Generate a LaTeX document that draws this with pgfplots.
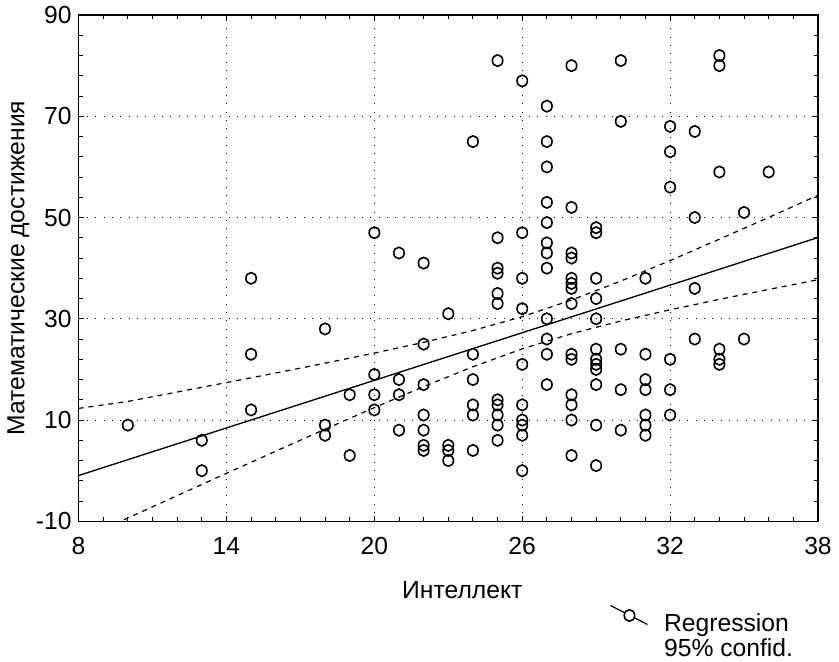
\documentclass[border=0pt]{standalone}
\usepackage{fontspec}
\setmainfont{Liberation Sans}
\usepackage{pgfplots}
\pgfplotsset{compat=1.18}
\begin{document}
\fontsize{18.5}{22}\selectfont
\begin{tikzpicture}
\begin{axis}[
  scale only axis, width=554.25pt, height=379.5pt,
  xmin=8, xmax=38, ymin=-10, ymax=90,
  xtick={8,14,20,26,32,38}, xticklabels={8,14,20,26,32,38},
  ytick={-10,10,30,50,70,90}, yticklabels={-10,10,30,50,70,90},
  minor x tick num=5, minor y tick num=4,
  tick align=inside, tick pos=both,
  major tick length=4pt, minor tick length=3pt,
  tick style={black, line width=0.7pt},
  axis line style={line width=1.2pt},
  grid=major,
  major grid style={black, line width=0.75pt, dash pattern=on 0.75pt off 5.5pt},
  ticklabel style={font=\fontsize{18.5}{22}\selectfont},
  xticklabel style={anchor=north, inner sep=0pt, yshift=-12pt},
  yticklabel style={anchor=east, inner sep=0pt, xshift=-5pt},
  xlabel={Интеллект}, ylabel={Математические достижения},
  label style={font=\fontsize{18.5}{22}\selectfont},
  xlabel style={at={(axis description cs:0.519,-0.1522)}, anchor=base, inner sep=0pt},
  ylabel style={at={(axis description cs:-0.0967,0.5)}, anchor=north, inner sep=0pt},
  legend style={at={(axis description cs:0.7185,-0.1650)}, anchor=north west,
    draw=none, fill=none, inner sep=0pt, outer sep=0pt,
    row sep=2.3pt, column sep=12pt,
    font=\fontsize{18.5}{22}\selectfont, nodes={inner sep=0pt}},
  legend cell align=left,
]
\coordinate (SW) at (rel axis cs:0,0);
\coordinate (NE) at (rel axis cs:1,1);
\addplot[only marks, mark=o, mark size=3.9pt,
  mark options={line width=1.2pt, yscale=1.1, black},
  legend image code/.code={
    \draw[line width=0.9pt] (0pt,14.25pt) -- (27.75pt,0pt);
    \draw[line width=1.2pt, fill=white] (14.25pt,6.75pt) ellipse[x radius=3.9pt, y radius=4.3pt];
  }] table {
x y
10 9
13 6
13 0
15 38
15 23
15 12
18 28
18 9
18 7
19 15
19 3
20 47
20 19
20 15
20 12
21 43
21 18
21 15
21 8
22 41
22 25
22 17
22 11
22 8
22 5
22 4
23 31
23 5
23 4
23 2
24 65
24 23
24 18
24 13
24 11
24 4
25 81
25 46
25 40
25 39
25 35
25 33
25 14
25 13
25 11
25 9
25 6
26 77
26 47
26 38
26 32
26 21
26 13
26 10
26 9
26 7
26 0
27 72
27 65
27 60
27 53
27 49
27 45
27 43
27 40
27 30
27 26
27 23
27 17
28 80
28 52
28 43
28 42
28 38
28 37
28 36
28 33
28 23
28 22
28 15
28 13
28 10
28 3
29 48
29 47
29 38
29 34
29 30
29 24
29 22
29 21
29 20
29 17
29 9
29 1
30 81
30 69
30 24
30 16
30 8
31 38
31 23
31 18
31 16
31 11
31 9
31 7
32 68
32 63
32 56
32 22
32 16
32 11
33 67
33 50
33 36
33 26
34 82
34 80
34 59
34 24
34 22
34 21
35 51
35 26
36 59
};
\addlegendentry{Regression}
\addplot[black, line width=1pt, forget plot] coordinates {(8,-0.96) (38,46.05)};
\addplot[black, line width=0.9pt, dash pattern=on 3.75pt off 3.75pt, forget plot] coordinates {
(8,12.3) (10,13.68) (12,15.53) (14,17.40) (16,19.29) (18,21.23) (20,23.23) (22,25.34)
(24,27.69) (26,30.42) (28,33.70) (30,37.45) (32,41.50) (34,45.72) (36,50.02) (38,54.39)};
\addplot[black, line width=0.9pt, dash pattern=on 3.75pt off 3.75pt, forget plot] coordinates {
(8,-13.77) (10,-9.34) (12,-4.93) (14,-0.52) (16,3.85) (18,8.19) (20,12.45) (22,16.60)
(24,20.53) (26,24.06) (28,27.06) (30,29.57) (32,31.78) (34,33.84) (36,35.80) (38,37.71)};
\addlegendimage{empty legend}
\addlegendentry{95\% confid.}
\end{axis}
\pgfresetboundingbox
\path ([shift={(-58.875pt,-105pt)}]SW) rectangle ([shift={(15.75pt,11.25pt)}]NE);
\end{tikzpicture}
\end{document}
